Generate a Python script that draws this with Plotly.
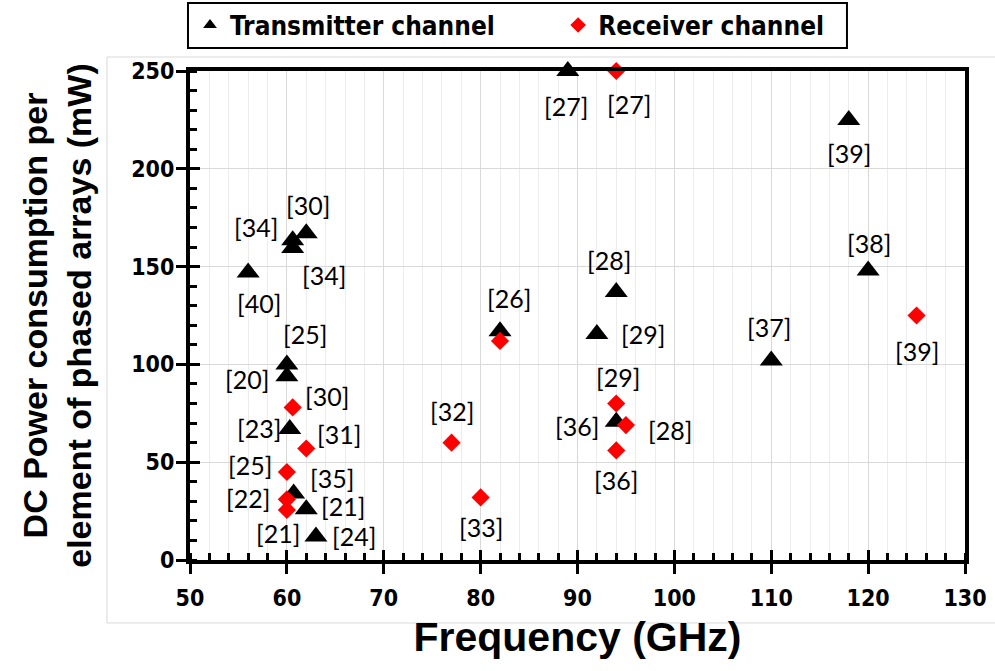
import plotly.graph_objects as go

# ---- data ----
tx_freq = [89, 118, 60.6, 62, 60.6, 56, 60, 60, 60.3, 60.7, 62, 63, 94, 92, 82, 110, 120, 94]
tx_power = [250, 225, 163.5, 167, 159.5, 147, 100, 94, 67, 34, 26, 12, 137, 115.5, 117, 102, 148, 70.7]
tx_refs = ["[27]", "[39]", "[34]", "[30]", "[34]", "[40]", "[25]", "[20]", "[23]", "[35]",
           "[21]", "[24]", "[28]", "[29]", "[26]", "[37]", "[38]", "[36]"]

rx_freq = [94, 125, 82, 77, 80, 94, 95, 94, 60.6, 62, 60, 60, 60]
rx_power = [250, 125, 112, 60, 32, 80, 69, 56, 78, 57, 45, 31, 25.6]
rx_refs = ["[27]", "[39]", "", "[32]", "[33]", "[29]", "[28]", "[36]", "[30]", "[31]",
           "[25]", "[22]", "[21]"]

x_range = [50, 130]
y_range = [0, 250]

# label offsets in pixels (dx, dy) -- styling only
tx_shift = [(-2, -35), (0, -33), (-37, 13), (2, 28), (31, -27), (11, -31), (18, 30), (-40, -3),
            (-31, 1), (38, 16), (37, 3), (38, 1), (-7, 32), (46, 0), (9, 33), (-2, 33), (1, 28), (-39, -4)]
rx_shift = [(13, -33), (0, -35), (0, 0), (0, 32), (0, -30), (2, 27), (44, -5), (0, -30),
            (34, 11), (33, 15), (-37, 7), (-39, 1), (-9, -23)]

NARROW = "DejaVu Sans Condensed, Liberation Sans Narrow, Arial Narrow, Liberation Sans, Arial"
LABEL_FONT = "Lato, Carlito, Calibri, Open Sans, sans-serif"

fig = go.Figure()
fig.add_trace(go.Scatter(
    x=tx_freq, y=tx_power, mode="markers", name="Transmitter channel",
    marker=dict(symbol="triangle-up", size=20, color="black"),
    cliponaxis=False, legend="legend",
))
fig.add_trace(go.Scatter(
    x=rx_freq, y=rx_power, mode="markers", name="Receiver channel",
    marker=dict(symbol="diamond", size=14, color="#ff0000"),
    cliponaxis=False, legend="legend2",
))

annotations = []
for xs, ys, refs, shifts in [(tx_freq, tx_power, tx_refs, tx_shift), (rx_freq, rx_power, rx_refs, rx_shift)]:
    for x, y, t, (dx, dy) in zip(xs, ys, refs, shifts):
        if not t:
            continue
        annotations.append(dict(x=x, y=y, text=t, showarrow=False, xshift=dx, yshift=dy,
                                font=dict(family=LABEL_FONT, size=25, color="black")))

# inside halves of the major ticks (crossing ticks)
fig.update_layout(
    xaxis2=dict(overlaying="x", matches="x", side="bottom", showgrid=False, showline=False,
                zeroline=False, ticks="inside", ticklen=10, tickwidth=3, tickcolor="black",
                dtick=10, tick0=50, showticklabels=False, range=x_range),
    yaxis2=dict(overlaying="y", matches="y", side="left", showgrid=False, showline=False,
                zeroline=False, ticks="inside", ticklen=10, tickwidth=3, tickcolor="black",
                dtick=50, tick0=0, showticklabels=False, range=y_range),
)
fig.add_trace(go.Scatter(x=[None], y=[None], xaxis="x2", yaxis="y2", showlegend=False, hoverinfo="skip"))

legend_font = dict(family=NARROW, size=26, color="black", weight="bold")
fig.update_layout(
    width=995, height=671,
    margin=dict(l=190, r=30, t=71, b=111, autoexpand=False),
    paper_bgcolor="white", plot_bgcolor="white",
    showlegend=True,
    legend=dict(orientation="h", x=0.0, y=1.142, xanchor="left", yanchor="top",
                borderwidth=0, bgcolor="rgba(0,0,0,0)", font=legend_font, itemsizing="constant"),
    legend2=dict(orientation="h", x=0.475, y=1.142, xanchor="left", yanchor="top",
                 borderwidth=0, bgcolor="rgba(0,0,0,0)", font=legend_font, itemsizing="constant"),
    shapes=[
        # faint outer plot-area frame
        dict(type="rect", xref="paper", yref="paper", x0=-0.1071, x1=1.05, y0=-0.1288, y1=1.0286,
             line=dict(color="#d9d9d9", width=1), fillcolor="rgba(0,0,0,0)", layer="below"),
        # legend box
        dict(type="rect", xref="paper", yref="paper", x0=-0.0026, x1=0.8477, y0=1.047, y1=1.139,
             line=dict(color="black", width=2), fillcolor="white", layer="below"),
    ],
    annotations=annotations,
    xaxis=dict(range=x_range, dtick=10, tick0=50, showgrid=True, gridcolor="#d9d9d9", gridwidth=1,
               zeroline=False, showline=True, linecolor="black", linewidth=4, mirror=True,
               ticks="outside", ticklen=10, tickwidth=3, tickcolor="black",
               ticklabelstandoff=4,
               tickfont=dict(family=NARROW, size=23, color="black", weight="bold"),
               minor=dict(dtick=2, ticks="inside", ticklen=7, tickwidth=3, tickcolor="black",
                          showgrid=True, gridcolor="#ececec", gridwidth=1),
               title=dict(text="Frequency (GHz)", standoff=14,
                          font=dict(family="Liberation Sans, Arial", size=41, color="black", weight="bold"))),
    yaxis=dict(range=y_range, dtick=50, tick0=0, showgrid=True, gridcolor="#d9d9d9", gridwidth=1,
               zeroline=False, showline=True, linecolor="black", linewidth=4, mirror=True,
               ticks="outside", ticklen=10, tickwidth=3, tickcolor="black",
               ticklabelstandoff=-3,
               tickfont=dict(family=NARROW, size=23, color="black", weight="bold"),
               minor=dict(dtick=10, ticks="inside", ticklen=7, tickwidth=3, tickcolor="black",
                          showgrid=False),
               title=dict(text="DC Power consumption per<br>element of phased arrays (mW)", standoff=30,
                          font=dict(family="Liberation Sans, Arial", size=34, color="black", weight="bold"))),
)

fig.write_html("out.html")
